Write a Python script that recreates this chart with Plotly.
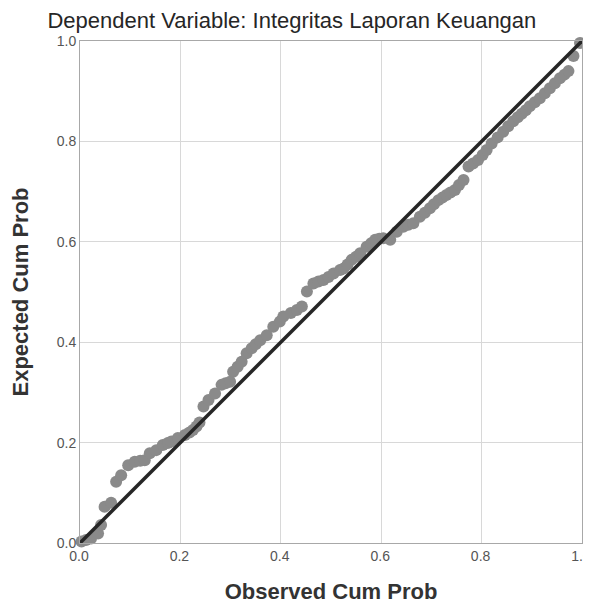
import plotly.graph_objects as go

observed = [0.003, 0.012, 0.022, 0.036, 0.042, 0.049, 0.062, 0.072, 0.082, 0.096, 0.109,
            0.120, 0.129, 0.139, 0.152, 0.165, 0.175, 0.182, 0.195, 0.209, 0.218, 0.225,
            0.232, 0.238, 0.246, 0.256, 0.269, 0.282, 0.290, 0.299, 0.305, 0.314, 0.322,
            0.332, 0.342, 0.350, 0.359, 0.372, 0.385, 0.398, 0.405, 0.420, 0.432, 0.442,
            0.452, 0.465, 0.475, 0.485, 0.495, 0.505, 0.518, 0.525, 0.533, 0.541, 0.550,
            0.558, 0.571, 0.580, 0.588, 0.596, 0.604, 0.618, 0.631, 0.644, 0.654, 0.664,
            0.677, 0.687, 0.697, 0.705, 0.714, 0.722, 0.730, 0.738, 0.747, 0.755, 0.764,
            0.774, 0.783, 0.793, 0.802, 0.810, 0.820, 0.832, 0.843, 0.853, 0.863, 0.872,
            0.880, 0.888, 0.896, 0.906, 0.916, 0.926, 0.936, 0.946, 0.956, 0.965, 0.973,
            0.983, 0.996]
expected = [0.003, 0.006, 0.009, 0.019, 0.036, 0.072, 0.080, 0.122, 0.135, 0.155, 0.162,
            0.164, 0.165, 0.179, 0.185, 0.195, 0.199, 0.202, 0.209, 0.215, 0.220, 0.225,
            0.232, 0.240, 0.272, 0.285, 0.298, 0.315, 0.318, 0.321, 0.341, 0.351, 0.361,
            0.378, 0.388, 0.396, 0.404, 0.414, 0.431, 0.441, 0.451, 0.458, 0.464, 0.471,
            0.501, 0.517, 0.521, 0.524, 0.530, 0.537, 0.544, 0.547, 0.555, 0.564, 0.570,
            0.577, 0.590, 0.597, 0.604, 0.606, 0.607, 0.604, 0.620, 0.630, 0.634, 0.637,
            0.650, 0.658, 0.667, 0.675, 0.683, 0.688, 0.693, 0.698, 0.703, 0.713, 0.723,
            0.750, 0.756, 0.763, 0.773, 0.783, 0.796, 0.808, 0.819, 0.830, 0.840, 0.848,
            0.855, 0.862, 0.870, 0.878, 0.886, 0.896, 0.906, 0.916, 0.926, 0.933, 0.940,
            0.970, 0.996]
ref_line = [0.0, 1.0]
tick_vals = [0.0, 0.2, 0.4, 0.6, 0.8, 1.0]
tick_text = ["0.0", "0.2", "0.4", "0.6", "0.8", "1.0"]

FONT = "Liberation Sans, Arial, sans-serif"

fig = go.Figure()
fig.add_trace(go.Scatter(
    x=observed, y=expected, mode="markers",
    marker=dict(size=12, color="#8a8a8a", line=dict(width=0)),
    showlegend=False, hoverinfo="skip", cliponaxis=False))
fig.add_trace(go.Scatter(
    x=ref_line, y=ref_line, mode="lines",
    line=dict(color="#262626", width=3.5),
    showlegend=False, hoverinfo="skip", cliponaxis=False))

axis_common = dict(
    range=[0, 1], tickvals=tick_vals, ticktext=tick_text, automargin=False,
    showgrid=True, gridcolor="#d8d8d8", gridwidth=1,
    showline=True, linecolor="#a8a8a8", linewidth=1, mirror=True,
    zeroline=False, ticks="", ticklabeloverflow="allow",
    tickfont=dict(family=FONT, size=14, color="#555555"),
)

fig.update_layout(
    width=583, height=596,
    margin=dict(l=72, r=9, t=33, b=61),
    paper_bgcolor="white", plot_bgcolor="white",
    title=dict(text="Dependent Variable: Integritas Laporan Keuangan",
               x=0.487, xanchor="center", y=0.979, yanchor="middle",
               font=dict(family=FONT, size=22, color="#262626")),
    xaxis=dict(**axis_common, ticklabelshift=-1,
               title=dict(text="<b>Observed Cum Prob</b>", standoff=27,
                          font=dict(family=FONT, size=22, color="#333333"))),
    yaxis=dict(**axis_common,
               title=dict(text="<b>Expected Cum Prob</b>", standoff=22,
                          font=dict(family=FONT, size=22, color="#333333"))),
)

fig.write_html("out.html")
